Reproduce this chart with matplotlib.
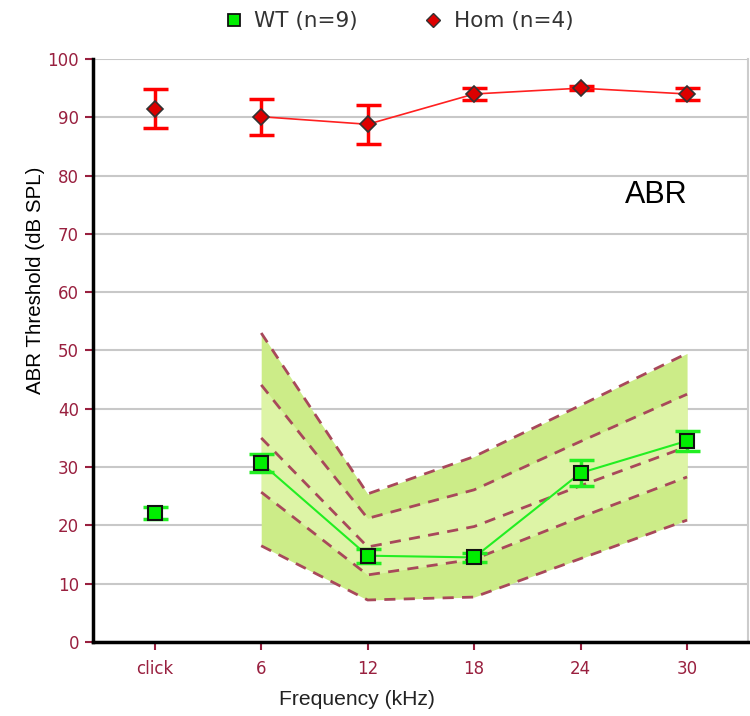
import matplotlib.pyplot as plt
import numpy as np

plt.rcParams['font.family'] = ['Liberation Sans', 'DejaVu Sans']

# x categories
freq_labels = ['click', '6', '12', '18', '24', '30']

# homozygous mice (n=4)
hom_mean = [91.5, 90.1, 88.8, 94.0, 95.0, 94.0]
hom_err = [3.3, 3.1, 3.3, 1.0, 0.3, 1.0]

# wild type mice (n=9)
wt_mean = [22.1, 30.7, 14.8, 14.5, 29.0, 34.5]
wt_err = [1.0, 1.5, 1.2, 0.8, 2.2, 1.7]

# reference ranges (6..30 kHz)
band_labels = ['6', '12', '18', '24', '30']
ref_outer_hi = [53.0, 25.4, 31.8, 40.6, 49.5]
ref_inner_hi = [44.1, 21.2, 26.1, 34.4, 42.5]
ref_mid = [35.0, 16.3, 19.8, 26.8, 33.5]
ref_inner_lo = [25.7, 11.5, 14.2, 21.4, 28.3]
ref_outer_lo = [16.5, 7.2, 7.7, 14.3, 20.9]

tick_col = '#99203f'

fig = plt.figure(figsize=(7.5, 7.16), dpi=100)
ax = fig.add_axes([0.124, 0.1034, 0.873, 0.8142])

x = np.arange(len(freq_labels))
xb = np.array([freq_labels.index(b) for b in band_labels])

ax.fill_between(xb, ref_outer_lo, ref_outer_hi, color='#ccec88', lw=0, zorder=1)
ax.fill_between(xb, ref_inner_lo, ref_inner_hi, color='#ddf4a6', lw=0, zorder=1)
for ref in [ref_outer_hi, ref_inner_hi, ref_mid, ref_inner_lo, ref_outer_lo]:
    ax.plot(xb, ref, color='#a8485a', lw=2, dashes=(4, 3), zorder=2)

# lines (click is not joined)
ax.plot(x[1:], hom_mean[1:], color='#ff2020', lw=1.2, zorder=3)
ax.plot(x[1:], wt_mean[1:], color='#22ee22', lw=1.5, zorder=3)

ax.errorbar(x, hom_mean, yerr=hom_err, fmt='none', ecolor='#ff0000',
            elinewidth=2.5, capsize=9, capthick=2.5, zorder=4)
ax.errorbar(x, wt_mean, yerr=wt_err, fmt='none', ecolor='#22ee22',
            elinewidth=2.5, capsize=9, capthick=2.5, zorder=4)
ax.plot(x, hom_mean, ls='none', marker='D', ms=8, mfc='#dd0000',
        mec='#333333', mew=1.2, zorder=5)
ax.plot(x, wt_mean, ls='none', marker='s', ms=9.5, mfc='#00ee00',
        mec='#111111', mew=1.5, zorder=5)

ax.set_xlim(-0.58, 5.57)
ax.set_ylim(0, 100)
ax.set_yticks(np.arange(0, 101, 10))
ax.set_xticks(x)
ax.set_xticklabels(freq_labels)
ax.yaxis.grid(True, color='#c8c8c8', lw=1.5)
ax.set_axisbelow(True)

ax.spines['top'].set_visible(False)
ax.spines['right'].set_color('#cccccc')
ax.spines['right'].set_linewidth(1.5)
ax.spines['left'].set_linewidth(2.5)
ax.spines['bottom'].set_linewidth(2.5)
ax.tick_params(axis='both', colors=tick_col, length=6, width=1.5)
for lab in ax.get_xticklabels() + ax.get_yticklabels():
    lab.set_family(['DejaVu Sans'])
    lab.set_fontsize(12)
ax.tick_params(axis='y', pad=4)
ax.tick_params(axis='x', pad=7)

ax.set_xlabel('Frequency (kHz)', fontsize=15.2, color='#222222')
ax.set_ylabel('ABR Threshold (dB SPL)', fontsize=14.8, color='#000000')
ax.xaxis.set_label_coords(0.403, -0.083)
ax.yaxis.set_label_coords(-0.074, 0.62)

ax.text(4.71, 76.7, 'ABR', fontsize=22, ha='center', va='center', color='black')

# legend
h1 = ax.plot([], [], ls='none', marker='s', ms=8, mfc='#00ee00', mec='#111111', mew=1.3)[0]
h2 = ax.plot([], [], ls='none', marker='D', ms=7.5, mfc='#dd0000', mec='#333333', mew=1.0)[0]
fig.legend([h1, h2], ['WT (n=9)', 'Hom (n=4)'], loc='center',
           bbox_to_anchor=(0.531, 0.970), ncol=2, frameon=False,
           prop={'family': 'DejaVu Sans', 'size': 15.5},
           handletextpad=0.45, columnspacing=3.0, handlelength=1.0,
           labelcolor='#333333', borderpad=0.2)

fig.savefig('out.png', dpi=100)
